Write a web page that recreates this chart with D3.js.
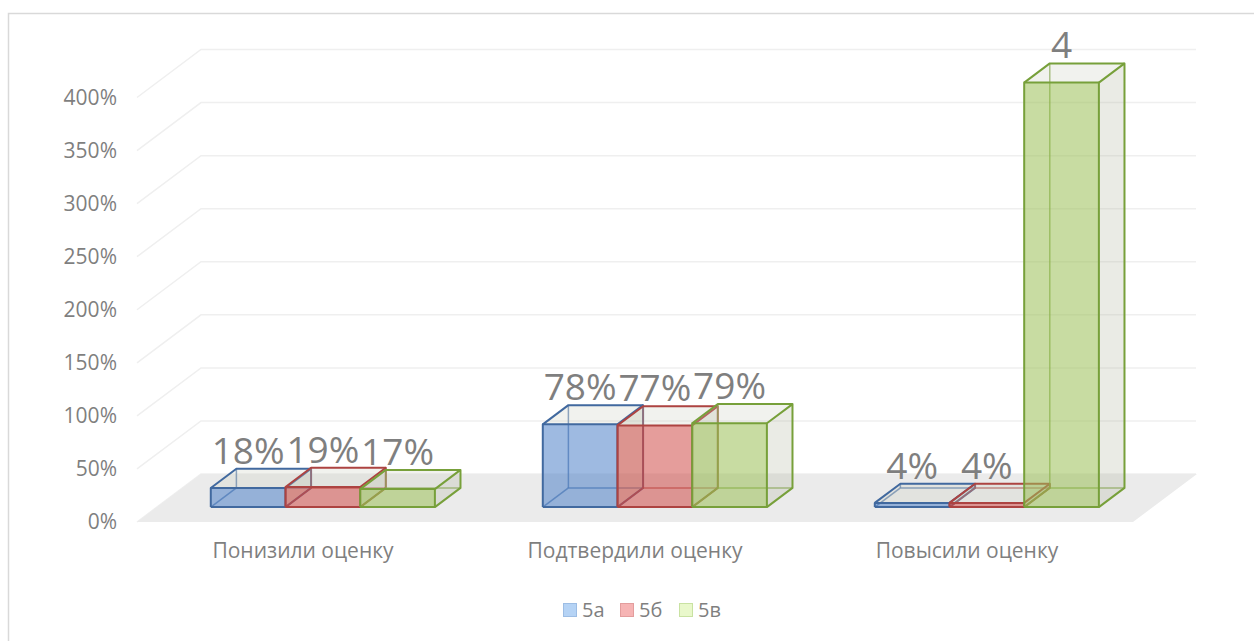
<!DOCTYPE html>
<html>
<head>
<meta charset="utf-8">
<script src="https://d3js.org/d3.v7.min.js"></script>
<style>
  body { margin: 0; background: #fff; }
  text { font-family: "Open Sans", sans-serif; fill: #7f7f7f; }
  .grid { fill: none; stroke: #efefef; stroke-width: 1.5px; }
</style>
</head>
<body>
<div id="chart"></div>
<script>
"use strict"

// data
var categories = ["Понизили оценку", "Подтвердили оценку", "Повысили оценку"];
var seriesNames = ["5а", "5б", "5в"];
var values5a = [0.18, 0.78, 0.04];
var values5b = [0.19, 0.77, 0.04];
var values5v = [0.17, 0.79, 4];
var yTicks = [0, 0.5, 1, 1.5, 2, 2.5, 3, 3.5, 4];

var series = [values5a, values5b, values5v];
var strokeCol = ["#41699f", "#ad4341", "#77a03a"];
var frontCol = ["#4f81c9", "#cf4c49", "#9bc055"];
var legendFill = ["#b5d3f5", "#f6b4b4", "#e9f8cb"];
var legendStroke = ["#9dbde4", "#e39d9d", "#c9e2a2"];

var width = 1254, height = 641;

var svg = d3.select("#chart").append("svg")
    .attr("width", width)
    .attr("height", height);

// chart border
svg.append("rect")
    .attr("x", 8.5).attr("y", 13.5)
    .attr("width", 1260).attr("height", 650)
    .attr("fill", "#fff")
    .attr("stroke", "#d9d9d9")
    .attr("stroke-width", 1.5);

// front plane scales, depth goes back along (depthX, -depthY)
var x = d3.scaleBand().domain(categories).range([137, 1133])
    .paddingInner(0.325).paddingOuter(0.1625);
var xs = d3.scaleBand().domain(seriesNames).range([0, x.bandwidth()]);
var y = d3.scaleLinear().domain([0, 4]).range([522, 97.5]);
var depthX = 64, depthY = 48;
var zFront = 0.31, zBack = 0.71;

function p(px, v, z) { return [px + z * depthX, y(v) - z * depthY]; }
var line = d3.line();

// gridlines on side and back wall
svg.append("g").selectAll("path")
    .data(yTicks)
  .enter().append("path")
    .attr("class", "grid")
    .attr("d", function(t) {
      return line([p(137, t, 0), p(137, t, 1), [1196, y(t) - depthY]]);
    });

// floor
svg.append("path")
    .attr("d", line([p(137, 0, 0), p(137, 0, 1), p(1133, 0, 1), p(1133, 0, 0)]) + "Z")
    .attr("fill", "#ebebeb");

// y axis labels
svg.append("g").selectAll("text")
    .data(yTicks)
  .enter().append("text")
    .attr("x", 117)
    .attr("y", function(t) { return y(t); })
    .attr("dy", "0.35em")
    .attr("text-anchor", "end")
    .style("font-size", "21px")
    .text(d3.format(".0%"));

// bars
var bars = [];
categories.forEach(function(c, ci) {
  seriesNames.forEach(function(s, si) {
    bars.push({ cat: c, s: si, v: series[si][ci], x0: x(c) + xs(s), x1: x(c) + xs(s) + xs.bandwidth() });
  });
});

var g = svg.append("g");
bars.forEach(function(b) {
  var bg = g.append("g");
  var v = b.v;
  var hidden = [
    [p(b.x0, 0, zBack), p(b.x1, 0, zBack)],
    [p(b.x0, 0, zBack), p(b.x0, v, zBack)],
    [p(b.x0, 0, zFront), p(b.x0, 0, zBack)]
  ];
  hidden.forEach(function(e) {
    bg.append("path").attr("d", line(e))
      .attr("stroke", strokeCol[b.s]).attr("stroke-width", 1.5)
      .attr("stroke-opacity", 0.7).attr("fill", "none");
  });
  // right side
  bg.append("path")
    .attr("d", line([p(b.x1, 0, zFront), p(b.x1, 0, zBack), p(b.x1, v, zBack), p(b.x1, v, zFront)]) + "Z")
    .attr("fill", "#b4b6a2").attr("fill-opacity", 0.28);
  // top
  bg.append("path")
    .attr("d", line([p(b.x0, v, zFront), p(b.x1, v, zFront), p(b.x1, v, zBack), p(b.x0, v, zBack)]) + "Z")
    .attr("fill", "#c8ccbd").attr("fill-opacity", 0.25);
  // front
  bg.append("path")
    .attr("d", line([p(b.x0, 0, zFront), p(b.x1, 0, zFront), p(b.x1, v, zFront), p(b.x0, v, zFront)]) + "Z")
    .attr("fill", frontCol[b.s]).attr("fill-opacity", 0.55);
  var edges = [
    [p(b.x0, 0, zFront), p(b.x1, 0, zFront), p(b.x1, v, zFront), p(b.x0, v, zFront), p(b.x0, 0, zFront)],
    [p(b.x1, 0, zFront), p(b.x1, 0, zBack), p(b.x1, v, zBack), p(b.x1, v, zFront)],
    [p(b.x0, v, zFront), p(b.x0, v, zBack), p(b.x1, v, zBack)]
  ];
  edges.forEach(function(e) {
    bg.append("path").attr("d", line(e))
      .attr("stroke", strokeCol[b.s]).attr("stroke-width", 2)
      .attr("stroke-linejoin", "round").attr("fill", "none");
  });
});

// value labels
var fmt = function(v) { return v >= 1 ? d3.format("d")(v) : d3.format(".0%")(v); };
svg.append("g").selectAll("text")
    .data(bars)
  .enter().append("text")
    .attr("x", function(b) { return (b.x0 + b.x1) / 2 + zFront * depthX; })
    .attr("y", function(b) { return p(b.x0, b.v, zBack)[1] - 5; })
    .attr("text-anchor", "middle")
    .style("font-size", "37px")
    .text(function(b) { return fmt(b.v); });

// category labels
svg.append("g").selectAll("text")
    .data(categories)
  .enter().append("text")
    .attr("x", function(c) { return x(c) + x.bandwidth() / 2; })
    .attr("y", 558)
    .attr("text-anchor", "middle")
    .style("font-size", "21px")
    .text(function(c) { return c; });

// legend
var legX = [563, 620, 679];
var leg = svg.append("g").selectAll("g")
    .data(seriesNames)
  .enter().append("g")
    .attr("transform", function(d, i) { return "translate(" + legX[i] + ",603)"; });
leg.append("rect")
    .attr("x", 0.5).attr("y", 0.5)
    .attr("width", 13).attr("height", 13)
    .attr("fill", function(d, i) { return legendFill[i]; })
    .attr("stroke", function(d, i) { return legendStroke[i]; });
leg.append("text")
    .attr("x", 19).attr("y", 7)
    .attr("dy", "0.35em")
    .style("font-size", "20px")
    .text(function(d) { return d; });
</script>
</body>
</html>
